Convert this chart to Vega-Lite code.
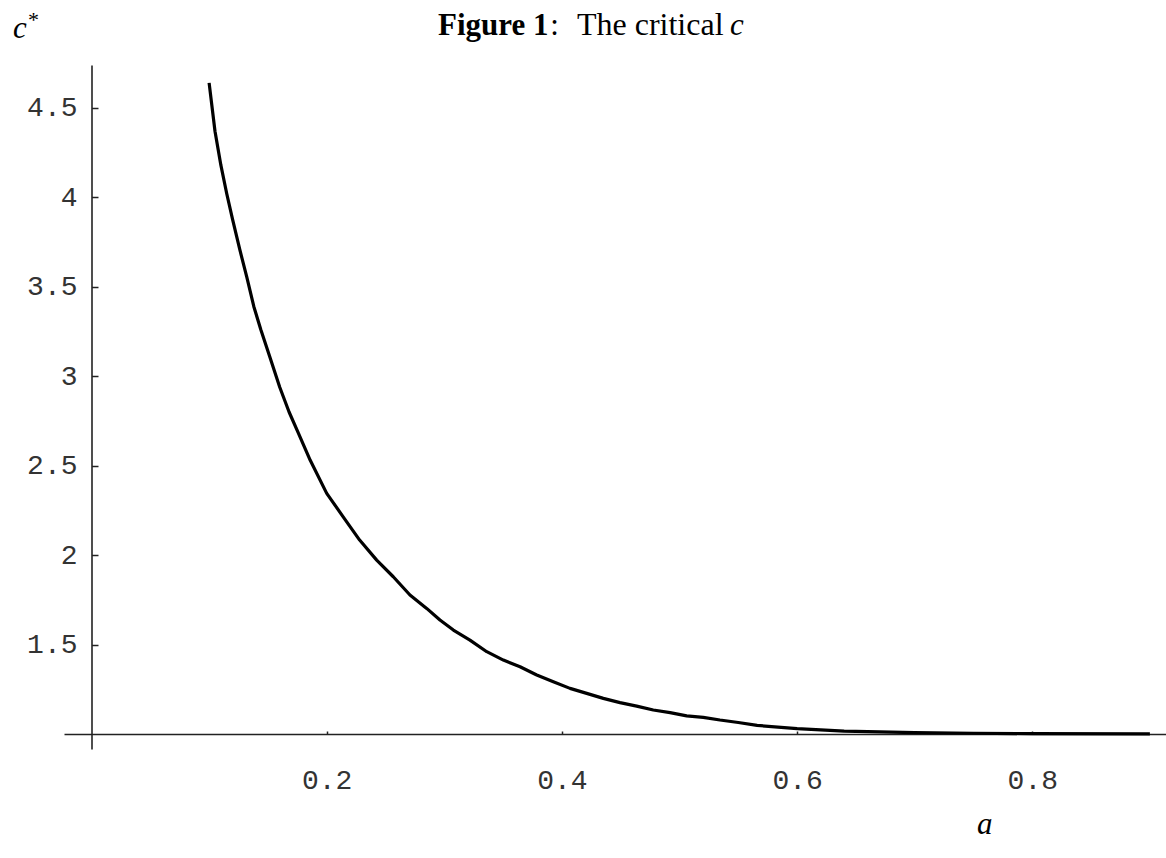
{
  "$schema": "https://vega.github.io/schema/vega-lite/v6.json",
  "width": 1102,
  "height": 684,
  "autosize": {"type": "none"},
  "padding": {"left": 64, "top": 65, "right": 0, "bottom": 109},
  "background": "white",
  "config": {"view": {"stroke": null}},
  "layer": [
    {
      "data": {"values": [
        {"a": 0.100, "c": 4.64},
        {"a": 0.105, "c": 4.37},
        {"a": 0.110, "c": 4.18},
        {"a": 0.115, "c": 4.02},
        {"a": 0.120, "c": 3.875},
        {"a": 0.126, "c": 3.71},
        {"a": 0.132, "c": 3.555},
        {"a": 0.138, "c": 3.39},
        {"a": 0.144, "c": 3.26},
        {"a": 0.152, "c": 3.10},
        {"a": 0.160, "c": 2.94},
        {"a": 0.168, "c": 2.80},
        {"a": 0.176, "c": 2.68},
        {"a": 0.186, "c": 2.53},
        {"a": 0.200, "c": 2.345},
        {"a": 0.214, "c": 2.214},
        {"a": 0.228, "c": 2.084},
        {"a": 0.2425, "c": 1.972},
        {"a": 0.2566, "c": 1.879},
        {"a": 0.2708, "c": 1.777},
        {"a": 0.285, "c": 1.702},
        {"a": 0.2963, "c": 1.637},
        {"a": 0.3077, "c": 1.581},
        {"a": 0.3218, "c": 1.525},
        {"a": 0.3361, "c": 1.460},
        {"a": 0.3502, "c": 1.413},
        {"a": 0.3644, "c": 1.376},
        {"a": 0.3786, "c": 1.330},
        {"a": 0.3927, "c": 1.292},
        {"a": 0.4069, "c": 1.255},
        {"a": 0.4211, "c": 1.227},
        {"a": 0.4352, "c": 1.199},
        {"a": 0.4494, "c": 1.175},
        {"a": 0.4636, "c": 1.156},
        {"a": 0.4777, "c": 1.134},
        {"a": 0.492, "c": 1.119},
        {"a": 0.5061, "c": 1.101},
        {"a": 0.5202, "c": 1.093},
        {"a": 0.5344, "c": 1.078},
        {"a": 0.55, "c": 1.064},
        {"a": 0.566, "c": 1.048},
        {"a": 0.60, "c": 1.030},
        {"a": 0.64, "c": 1.016},
        {"a": 0.70, "c": 1.008},
        {"a": 0.75, "c": 1.004},
        {"a": 0.80, "c": 1.002},
        {"a": 0.90, "c": 1.001}
      ]},
      "mark": {"type": "line", "color": "black", "strokeWidth": 3.2, "strokeJoin": "round"},
      "encoding": {
        "x": {
          "field": "a", "type": "quantitative",
          "scale": {"domain": [-0.0234, 0.9137], "nice": false, "zero": false},
          "axis": {
            "orient": "bottom", "offset": -15, "title": null,
            "values": [0.2, 0.4, 0.6, 0.8], "format": "~g", "grid": false,
            "domainColor": "#222", "domainWidth": 1.6,
            "tickColor": "#222", "tickWidth": 1.5, "tickSize": -3,
            "labelPadding": 35, "labelFont": "Liberation Mono", "labelFontSize": 28,
            "labelColor": "#333", "labelFlush": false, "labelOverlap": false
          }
        },
        "y": {
          "field": "c", "type": "quantitative",
          "scale": {"domain": [0.916, 4.74], "nice": false, "zero": false},
          "axis": {
            "orient": "left", "offset": -27.5, "title": null,
            "values": [1.5, 2, 2.5, 3, 3.5, 4, 4.5], "format": "~g", "grid": false,
            "domainColor": "#222", "domainWidth": 1.6,
            "tickColor": "#222", "tickWidth": 1.5, "tickSize": -6.5,
            "labelPadding": 21, "labelFont": "Liberation Mono", "labelFontSize": 28,
            "labelColor": "#333", "labelFlush": false, "labelOverlap": false
          }
        }
      }
    },
    {
      "data": {"values": [{}]},
      "mark": {"type": "text", "text": "Figure 1", "font": "Liberation Serif", "fontSize": 31, "fontWeight": "bold", "align": "right", "baseline": "alphabetic", "color": "black"},
      "encoding": {"x": {"datum": 0.3886}, "y": {"datum": 4.905}}
    },
    {
      "data": {"values": [{}]},
      "mark": {"type": "text", "text": ":", "font": "Liberation Serif", "fontSize": 31, "align": "left", "baseline": "alphabetic", "color": "black"},
      "encoding": {"x": {"datum": 0.390}, "y": {"datum": 4.905}}
    },
    {
      "data": {"values": [{}]},
      "mark": {"type": "text", "text": "The critical", "font": "Liberation Serif", "fontSize": 32, "align": "left", "baseline": "alphabetic", "color": "black"},
      "encoding": {"x": {"datum": 0.4128}, "y": {"datum": 4.905}}
    },
    {
      "data": {"values": [{}]},
      "mark": {"type": "text", "text": "c", "font": "Liberation Serif", "fontSize": 31, "fontStyle": "italic", "align": "left", "baseline": "alphabetic", "color": "black"},
      "encoding": {"x": {"datum": 0.543}, "y": {"datum": 4.905}}
    },
    {
      "data": {"values": [{}]},
      "mark": {"type": "text", "text": "c", "font": "Liberation Serif", "fontSize": 31, "fontStyle": "italic", "align": "left", "baseline": "alphabetic", "color": "black"},
      "encoding": {"x": {"datum": -0.0668}, "y": {"datum": 4.89}}
    },
    {
      "data": {"values": [{}]},
      "mark": {"type": "text", "text": "*", "font": "Liberation Serif", "fontSize": 22, "align": "left", "baseline": "alphabetic", "color": "black"},
      "encoding": {"x": {"datum": -0.054}, "y": {"datum": 4.955}}
    },
    {
      "data": {"values": [{}]},
      "mark": {"type": "text", "text": "a", "font": "Liberation Serif", "fontSize": 31, "fontStyle": "italic", "align": "left", "baseline": "alphabetic", "color": "black"},
      "encoding": {"x": {"datum": 0.753}, "y": {"datum": 0.441}}
    }
  ]
}
